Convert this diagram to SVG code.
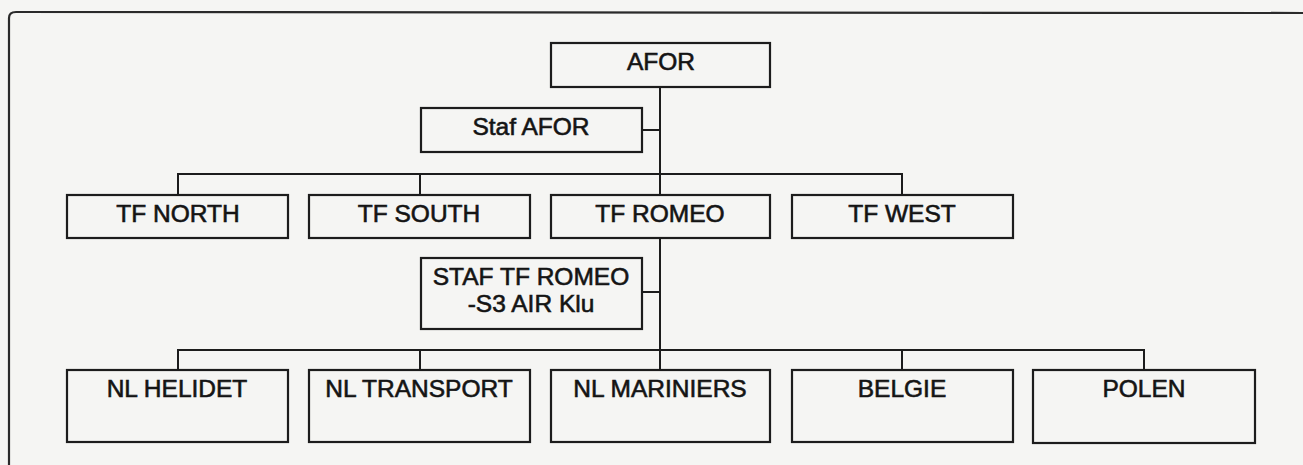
<svg xmlns="http://www.w3.org/2000/svg" width="1303" height="465" viewBox="0 0 1303 465">
<style>
.box{fill:none;stroke:#1c1c1c;stroke-width:2.2}
.con{fill:none;stroke:#1c1c1c;stroke-width:2}
.lbl{font-family:"Liberation Sans",Arial,sans-serif;font-size:24.5px;fill:#141414;stroke:#141414;stroke-width:0.6;text-anchor:middle}
</style>
<rect x="0" y="0" width="1303" height="465" fill="#f5f5f3"/>
<path d="M9,465 L9,18 Q9,12 16,12 L1303,13" fill="none" stroke="#2a2a2a" stroke-width="2.2"/>
<g id="connectors">
<path class="con" d="M660,87 V195 M660,238 V370"/>
<path class="con" d="M642,130 H660"/>
<path class="con" d="M178,195 V174 H902 V195 M420,174 V195"/>
<path class="con" d="M642,292 H660"/>
<path class="con" d="M178,370 V350 H1144 V370 M420,350 V370 M902,350 V370"/>
</g>
<g id="afor"><rect class="box" x="551" y="43" width="219" height="44"/><text class="lbl" x="661" y="70">AFOR</text></g>
<g id="staf-afor"><rect class="box" x="421" y="108" width="221" height="44"/><text class="lbl" x="531" y="135">Staf AFOR</text></g>
<g id="tf-north"><rect class="box" x="67" y="195" width="221" height="43"/><text class="lbl" x="178" y="222">TF NORTH</text></g>
<g id="tf-south"><rect class="box" x="309" y="195" width="221" height="43"/><text class="lbl" x="419" y="222">TF SOUTH</text></g>
<g id="tf-romeo"><rect class="box" x="551" y="195" width="219" height="43"/><text class="lbl" x="660" y="222">TF ROMEO</text></g>
<g id="tf-west"><rect class="box" x="792" y="195" width="221" height="43"/><text class="lbl" x="902" y="222">TF WEST</text></g>
<g id="staf-tf-romeo"><rect class="box" x="421" y="258" width="221" height="71"/><text class="lbl" x="531" y="285">STAF TF ROMEO</text><text class="lbl" x="531" y="312">-S3 AIR Klu</text></g>
<g id="nl-helidet"><rect class="box" x="67" y="370" width="221" height="72"/><text class="lbl" x="177" y="397">NL HELIDET</text></g>
<g id="nl-transport"><rect class="box" x="309" y="370" width="221" height="72"/><text class="lbl" x="419" y="397">NL TRANSPORT</text></g>
<g id="nl-mariniers"><rect class="box" x="551" y="370" width="219" height="72"/><text class="lbl" x="660" y="397">NL MARINIERS</text></g>
<g id="belgie"><rect class="box" x="792" y="370" width="221" height="72"/><text class="lbl" x="902" y="397">BELGIE</text></g>
<g id="polen"><rect class="box" x="1033" y="370" width="222" height="73"/><text class="lbl" x="1144" y="397">POLEN</text></g>
</svg>
